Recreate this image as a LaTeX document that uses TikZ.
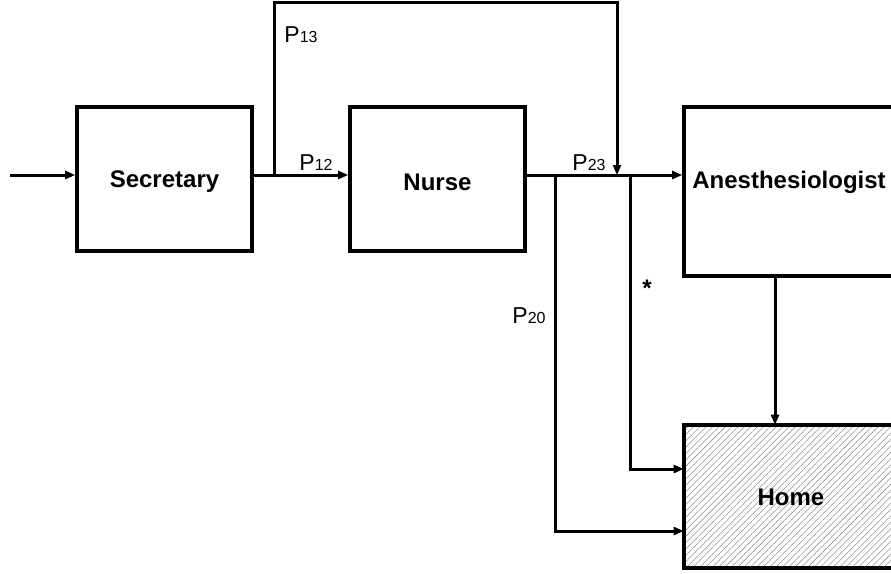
\documentclass[tikz,border=0pt]{standalone}
\usepackage{fontspec}
\setmainfont{Liberation Sans}
\usetikzlibrary{arrows.meta,patterns.meta}
\begin{document}
\begin{tikzpicture}[x=1pt,y=-1pt,
  box/.style={draw,line width=3.6pt,minimum width=175pt,minimum height=144pt,inner sep=0pt},
  wbox/.style={box,minimum width=210pt},
  btxt/.style={font=\fontsize{24}{28}\selectfont\bfseries},
  con/.style={line width=3pt},
  arr/.style={con,-{Triangle[length=10pt,width=8pt]}},
  lab/.style={font=\fontsize{23}{26}\selectfont,inner sep=0pt}]
\useasboundingbox (0,0) rectangle (891,573);
\clip (0,0) rectangle (891,573);
\node[box] (sec) at (164.5,179) {};
\node[box] (nur) at (437.5,179) {};
\node[wbox,minimum height=169pt] (ane) at (789,191.5) {};
\node[wbox,minimum height=143pt,pattern={Lines[angle=45,distance=4.5pt,line width=0.55pt]},pattern color=gray!85] (hom) at (789,496.5) {};
\node[btxt] (secT) at (164.5,182) {Secretary};
\node[btxt] (nurT) at (437.5,182) {Nurse};
\node[btxt] (aneT) at (789,182) {Anesthesiologist};
\node[btxt] (homT) at (791,497) {Home};
\coordinate (in) at (10,175);
\coordinate (b1) at (274,175);
\coordinate (t1) at (274,2);
\coordinate (t2) at (617,2);
\coordinate (j1) at (617,175);
\coordinate (b2) at (555,175);
\coordinate (b3) at (630,175);
\coordinate (d2) at (555,531);
\coordinate (d3) at (630,469);
\draw[arr] (in) -- (in -| sec.west);
\draw[arr] (in -| sec.east) -- (in -| nur.west);
\draw[arr] (b1) -- (t1) -- (t2) -- (j1);
\draw[arr] (in -| nur.east) -- (in -| ane.west);
\draw[arr] (b2) -- (d2) -- (d2 -| hom.west);
\draw[arr] (b3) -- (d3) -- (d3 -| hom.west);
\draw[arr] (775,0 |- ane.south) -- (775,0 |- hom.north);
\node[lab] (p13) at (301,35) {P{\fontsize{16}{18}\selectfont 13}};
\node[lab] (p12) at (316,163) {P{\fontsize{16}{18}\selectfont 12}};
\node[lab] (p23) at (589,163) {P{\fontsize{16}{18}\selectfont 23}};
\node[lab] (p20) at (529,316) {P{\fontsize{16}{18}\selectfont 20}};
\node[btxt] (st) at (647,288) {*};
\end{tikzpicture}
\end{document}
